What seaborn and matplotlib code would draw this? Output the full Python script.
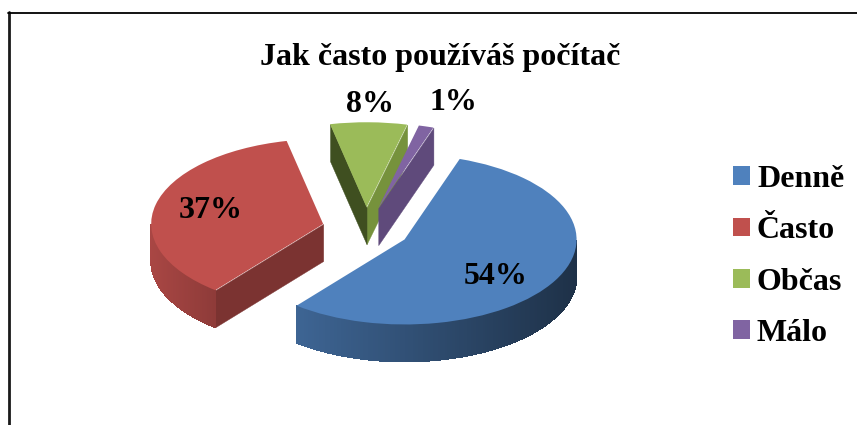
import numpy as np
import matplotlib
matplotlib.use("Agg")
import matplotlib.pyplot as plt
import seaborn as sns
from matplotlib.collections import PolyCollection
from matplotlib.colors import to_rgb
from matplotlib.lines import Line2D

categories = ["Denně", "Často", "Občas", "Málo"]
percent_labels = [54, 37, 8, 1]
slice_values = [55.6, 35.8, 7.2, 1.4]   # as drawn in the picture's perspective
title_text = "Jak často používáš počítač"

colors = ["#4f81bd", "#c0504d", "#9bbb59", "#8064a2"]
# side shading: arc shade at left and right end, cut-face colours (theta1, theta2)
arc_shades = [(0.78, 0.38), (0.88, 0.74), (0.7, 0.7), (0.7, 0.7)]
cut_colors = [(None, None), (None, "#7b3331"), ("#76923c", "#3f4f20"), ("#5f4a7b", None)]
draw_rank = [4, 3, 1, 2]

W, H = 857, 425
CX, CY = 366, 229      # pie centre, pixels
RX, RY = 172, 85       # pixels per data unit
DEPTH = 37 / RY
EXPLODE = 44 / RX

sns.set_theme(style="white")
plt.rcParams["font.family"] = ["Liberation Serif", "DejaVu Serif"]
fig = plt.figure(figsize=(W / 100, H / 100), dpi=100, facecolor="white")
ax = fig.add_axes([0, 0, 1, 1])

wedges, _ = ax.pie(slice_values, colors=colors, startangle=71.3, counterclock=False,
                   explode=[EXPLODE] * 4, radius=1.0,
                   wedgeprops=dict(linewidth=0))
ax.set_aspect("auto")
ax.set_xlim(-CX / RX, (W - CX) / RX)
ax.set_ylim(-(H - CY) / RY, CY / RY)
ax.axis("off")


def shade(color, f):
    return tuple(c * f for c in to_rgb(color))


for w, col, arc, cuts, rank in zip(wedges, colors, arc_shades, cut_colors, draw_rank):
    cx, cy = w.center
    r = w.r
    t1, t2 = w.theta1, w.theta2
    w.set_zorder(rank + 0.5)
    for ang, cc in zip((t1, t2), cuts):
        if cc is None:
            continue
        a = np.radians(ang)
        ex, ey = cx + r * np.cos(a), cy + r * np.sin(a)
        quad = [(cx, cy), (ex, ey), (ex, ey - DEPTH), (cx, cy - DEPTH)]
        ax.add_collection(PolyCollection([quad], facecolors=[cc], edgecolors=[cc],
                                         linewidths=0.3, zorder=rank))
    th = np.radians(np.linspace(t1, t2, 240))
    polys, fcs = [], []
    xs = cx + r * np.cos(th)
    front = np.sin(th) < 0
    if front.sum() > 1:
        xmin, xmax = xs[front].min(), xs[front].max()
    for i in range(len(th) - 1):
        if not (front[i] and front[i + 1]):
            continue
        x0, x1 = xs[i], xs[i + 1]
        y0, y1 = cy + r * np.sin(th[i]), cy + r * np.sin(th[i + 1])
        polys.append([(x0, y0), (x1, y1), (x1, y1 - DEPTH), (x0, y0 - DEPTH)])
        t = (x0 - xmin) / (xmax - xmin)
        fcs.append(shade(col, arc[0] + (arc[1] - arc[0]) * t))
    if polys:
        ax.add_collection(PolyCollection(polys, facecolors=fcs, edgecolors=fcs,
                                         linewidths=0.6, antialiaseds=False, zorder=rank))


def px(x, y):
    return (x - CX) / RX, (CY - y) / RY


label_pos = [(496, 276), (211, 210), (370, 105), (453, 103)]
for v, (x, y) in zip(percent_labels, label_pos):
    ax.text(*px(x, y), f"{v}%", ha="center", va="center", fontsize=23,
            fontweight="bold", color="black", zorder=10)

ax.text(*px(440, 57), title_text, ha="center", va="center", fontsize=23,
        fontweight="bold", color="black", zorder=10)

leg = ax.legend(wedges, categories, loc="upper left",
                bbox_to_anchor=(733 / W, 1 - 165 / H), bbox_transform=fig.transFigure,
                frameon=False, prop=dict(size=23, weight="bold"),
                handlelength=0.53, handleheight=0.53, handletextpad=0.22,
                labelspacing=0.70, borderpad=0, borderaxespad=0)
for t in leg.get_texts():
    t.set_color("black")

# chart frame (only the left and top edges fall inside the crop)
fig.add_artist(Line2D([8.5 / W, 8.5 / W], [0, 1 - 12 / H], color="#1a1a1a", lw=2.0))
fig.add_artist(Line2D([8 / W, 1], [1 - 12.5 / H, 1 - 12.5 / H], color="black", lw=1.3))

fig.savefig("out.png", dpi=100, facecolor="white")
